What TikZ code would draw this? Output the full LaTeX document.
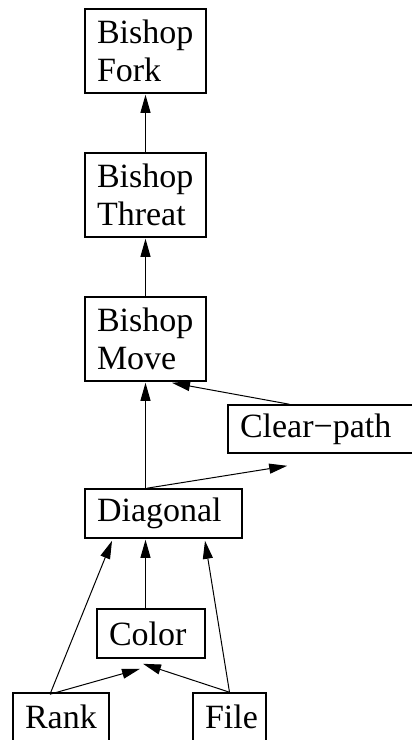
\documentclass[tikz,border=0pt]{standalone}
\usepackage{fontspec}
\setmainfont{Liberation Serif}
\usetikzlibrary{arrows.meta,calc}
\begin{document}
\begin{tikzpicture}[x=1pt,y=-1pt,
  box/.style={draw, line width=1.6pt, rectangle, inner xsep=12pt, inner ysep=0pt, align=left, font=\fontsize{34}{38}\selectfont},
  conn/.style={line width=1pt, -{Triangle[length=18pt,width=10pt]}}]
\useasboundingbox[clip] (0,0) rectangle (412,740);
\node[box, text width=97pt, minimum height=84pt] (fork) at (145.5,51) {Bishop\\Fork};
\node[box, text width=97pt, minimum height=84pt] (threat) at (145.5,195) {Bishop\\Threat};
\node[box, text width=97pt, minimum height=84pt] (move) at (145.5,339) {Bishop\\Move};
\node[box, text width=173pt, minimum height=48pt] (clear) at (326.5,429) {Clear−path};
\node[box, text width=133pt, minimum height=49pt] (diag) at (163.5,513.5) {Diagonal};
\node[box, text width=84pt, minimum height=49pt] (color) at (151,633.5) {Color};
\node[box, text width=72pt, minimum height=48pt] (rank) at (61,717) {Rank};
\node[box, text width=49pt, minimum height=48pt] (file) at (229.5,717) {File};
\coordinate (moveR) at ($(move.south)+(26.5,1)$);
\coordinate (clearIn) at ($(clear.south west)+(60,12)$);
\coordinate (colorInL) at ($(color.south)+(-11,10)$);
\coordinate (colorInR) at ($(color.south)+(-8,5)$);
\coordinate (diagInL) at ($(diag.south)+(-51.5,2)$);
\coordinate (diagInR) at ($(diag.south)+(41.5,2)$);
\coordinate (rankOut) at ($(rank.north)+(-11,2)$);
\coordinate (diagOutL) at ($(diag.north)+(-18,0)$);
\coordinate (diagOutR) at ($(diag.north)+(-16.5,0)$);
\draw[conn] (threat.north) -- ($(fork.south)+(0,1)$);
\draw[conn] (move.north) -- ($(threat.south)+(0,1)$);
\draw[conn] (diagOutL) -- ($(move.south)+(0,1)$);
\draw[conn] ($(clear.north west)+(62,0)$) -- (moveR);
\draw[conn] (diagOutR) -- (clearIn);
\draw[conn] ($(color.north)+(-5.5,0)$) -- ($(diag.south)+(-18,1)$);
\draw[conn] (rankOut) -- (diagInL);
\draw[conn] (rankOut) -- (colorInL);
\draw[conn] (file.north) -- (colorInR);
\draw[conn] (file.north) -- (diagInR);
\end{tikzpicture}
\end{document}
